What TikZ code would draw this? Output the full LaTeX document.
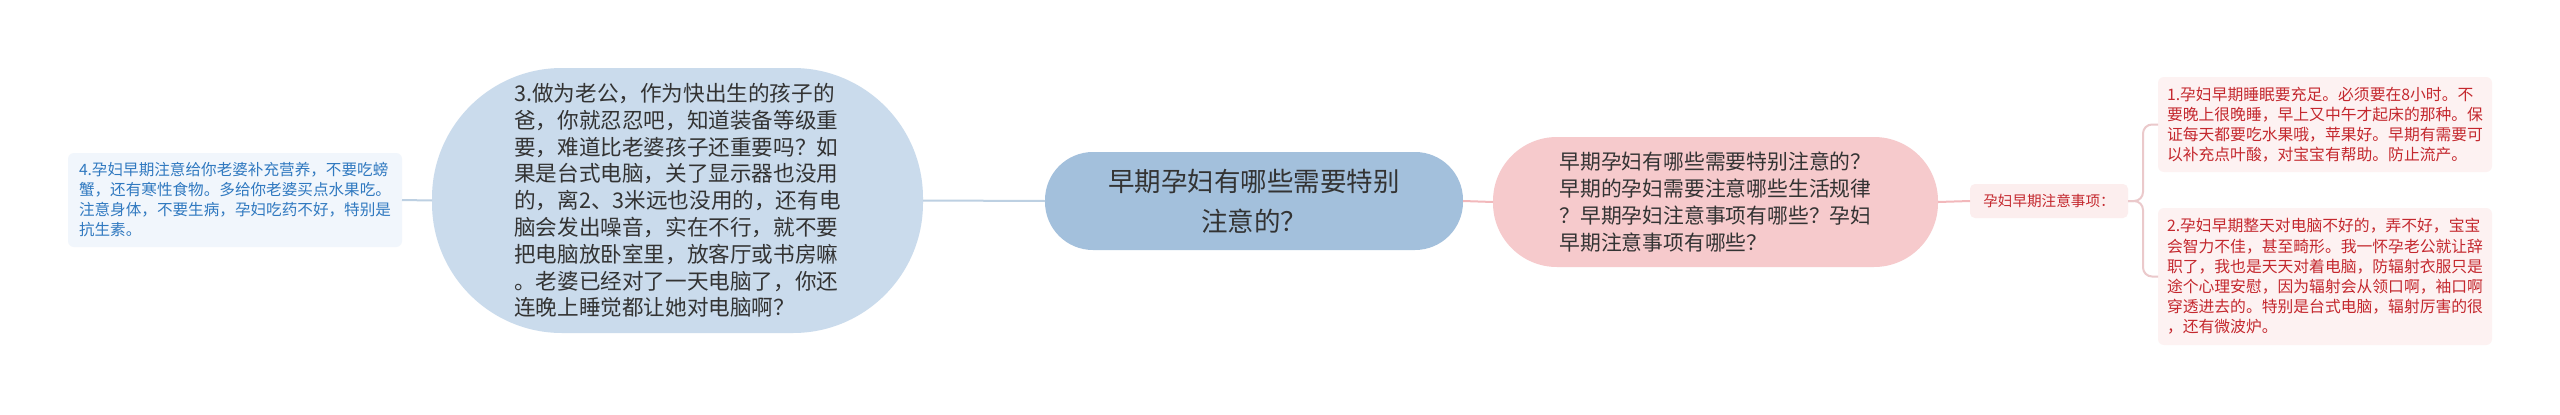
\documentclass[tikz,border=0pt]{standalone}
\usepackage{fontspec}
\setmainfont{Noto Sans CJK SC}
\definecolor{leftfill}{HTML}{F1F6FC}
\definecolor{lefttext}{HTML}{3079C0}
\definecolor{threefill}{HTML}{CADBEC}
\definecolor{centerfill}{HTML}{A3C0DC}
\definecolor{pinkfill}{HTML}{F6CACC}
\definecolor{labfill}{HTML}{FCEEEE}
\definecolor{redtext}{HTML}{C4282E}
\definecolor{boxfill}{HTML}{FDF2F2}
\definecolor{blueline}{HTML}{BDD0E2}
\definecolor{pinkline}{HTML}{F2B8BB}
\definecolor{bracketline}{HTML}{EBC9CB}
\definecolor{darktext}{HTML}{333333}
\tikzset{
  base/.style={rectangle, inner sep=0pt, outer sep=0pt},
  leftbox/.style={base, fill=leftfill, rounded corners=6pt, text=lefttext, align=left,
    font=\fontsize{15.6}{20}\selectfont},
  bigblob/.style={base, fill=threefill, rounded corners=130pt, text=darktext, align=left,
    font=\fontsize{21.6}{26.8}\selectfont},
  rootnode/.style={base, fill=centerfill, rounded corners=48pt, text=darktext, align=center,
    font=\fontsize{26.5}{40}\selectfont},
  pinknode/.style={base, fill=pinkfill, rounded corners=64pt, text=darktext, align=left,
    font=\fontsize{20.8}{26.7}\selectfont},
  labnode/.style={base, fill=labfill, rounded corners=5pt, text=redtext,
    font=\fontsize{14.6}{18}\selectfont},
  rightbox/.style={base, fill=boxfill, rounded corners=6pt, text=redtext, align=left,
    font=\fontsize{15.8}{20.2}\selectfont},
  bline/.style={draw=blueline, line width=2pt},
  pline/.style={draw=pinkline, line width=2pt},
  brline/.style={draw=bracketline, line width=2pt, rounded corners=9pt}
}
\begin{document}
\begin{tikzpicture}[x=1pt,y=-1pt]
\useasboundingbox (0,0) rectangle (2560,415);
\fill[white] (0,0) rectangle (2560,415);

\node[leftbox, minimum width=334pt, minimum height=94pt] (n4) at (235,200)
 {4.孕妇早期注意给你老婆补充营养，不要吃螃\\蟹，还有寒性食物。多给你老婆买点水果吃。\\注意身体，不要生病，孕妇吃药不好，特别是\\抗生素。};

\node[bigblob, minimum width=491pt, minimum height=265pt] (n3) at (677.5,200.5)
 {3.做为老公，作为快出生的孩子的\\爸，你就忍忍吧，知道装备等级重\\要，难道比老婆孩子还重要吗？如\\果是台式电脑，关了显示器也没用\\的，离2、3米远也没用的，还有电\\脑会发出噪音，实在不行，就不要\\把电脑放卧室里，放客厅或书房嘛\\。老婆已经对了一天电脑了，你还\\连晚上睡觉都让她对电脑啊？};

\node[rootnode, minimum width=418pt, minimum height=98pt] (root) at (1254,201)
 {早期孕妇有哪些需要特别\\注意的？};

\node[pinknode, minimum width=445pt, minimum height=130pt] (pk) at (1715.5,202)
 {早期孕妇有哪些需要特别注意的？\\早期的孕妇需要注意哪些生活规律\\？早期孕妇注意事项有哪些？孕妇\\早期注意事项有哪些？};

\node[labnode, minimum width=158pt, minimum height=34pt] (lab) at (2049,201)
 {孕妇早期注意事项：};

\node[rightbox, minimum width=334pt, minimum height=95pt] (b1) at (2325,124.5)
 {1.孕妇早期睡眠要充足。必须要在8小时。不\\要晚上很晚睡，早上又中午才起床的那种。保\\证每天都要吃水果哦，苹果好。早期有需要可\\以补充点叶酸，对宝宝有帮助。防止流产。};

\node[rightbox, minimum width=334pt, minimum height=137pt] (b2) at (2325,276.5)
 {2.孕妇早期整天对电脑不好的，弄不好，宝宝\\会智力不佳，甚至畸形。我一怀孕老公就让辞\\职了，我也是天天对着电脑，防辐射衣服只是\\途个心理安慰，因为辐射会从领口啊，袖口啊\\穿透进去的。特别是台式电脑，辐射厉害的很\\，还有微波炉。};

\draw[bline] (n4.east) -- (n3.west);
\draw[bline] (n3.east) -- (root.west);
\draw[pline] (root.east) -- (pk.west);
\draw[pline] (pk.east) -- (lab.west);
\coordinate (fork) at (2143,201);
\draw[brline] (lab.east) -- (fork) |- (b1.west);
\draw[brline] (lab.east) -- (fork) |- (b2.west);
\end{tikzpicture}
\end{document}
